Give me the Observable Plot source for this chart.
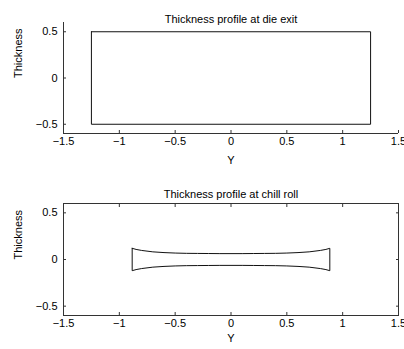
<!DOCTYPE html>
<html><head><meta charset="utf-8">
<script src="https://cdn.jsdelivr.net/npm/d3@7"></script>
<script src="https://cdn.jsdelivr.net/npm/@observablehq/plot@0.6"></script>
<style>
body{margin:0;background:#fff}
#c{width:404px}
#c svg{display:block;overflow:visible}
</style>
</head><body><div id="c"></div>
<script>
const xTicks = [-1.5, -1, -0.5, 0, 0.5, 1, 1.5];
const yTicks = [-0.5, 0, 0.5];
const titles = ["Thickness profile at die exit", "Thickness profile at chill roll"];
const xLabel = "Y";
const yLabel = "Thickness";

// Die exit: rectangular profile (outline)
const dieY = [-1.25, 1.25, 1.25, -1.25, -1.25];
const dieT = [0.5, 0.5, -0.5, -0.5, 0.5];

// Chill roll: half-width positions and upper thickness (symmetric about 0)
const rollY = [0, 0.1, 0.2, 0.3, 0.4, 0.5, 0.6, 0.7, 0.8, 0.85, 0.885];
const rollUpper = [0.063, 0.063, 0.064, 0.065, 0.066, 0.069, 0.074, 0.082, 0.097, 0.108, 0.12];

// build closed outline from the arrays
const upper = [];
for (let i = rollY.length - 1; i > 0; i--) upper.push({y: -rollY[i], t: rollUpper[i]});
for (let i = 0; i < rollY.length; i++) upper.push({y: rollY[i], t: rollUpper[i]});
const outline = [...upper, ...upper.slice().reverse().map(d => ({y: d.y, t: -d.t}))];
outline.push(outline[0]);

const die = dieY.map((y, i) => ({y, t: dieT[i]}));

const font = "'Liberation Sans', Arial, Helvetica, sans-serif";
const axisColor = "#333";
const fmt = d3.format("~g");

function panel({height, mt, mb, title, boxed, data, titleDy, labelDy}) {
  const marks = [];
  if (boxed) {
    marks.push(Plot.frame({stroke: axisColor}));
    marks.push(Plot.axisX({anchor: "top", ticks: xTicks, tickSize: -3, tickFormat: () => "", label: null, stroke: axisColor}));
    marks.push(Plot.axisY({anchor: "right", ticks: yTicks, tickSize: -3, tickFormat: () => "", label: null, stroke: axisColor}));
  } else {
    marks.push(Plot.ruleX([-1.5], {stroke: axisColor}));
    marks.push(Plot.ruleY([-0.6], {stroke: axisColor}));
  }
  marks.push(
    Plot.axisX({ticks: xTicks, tickSize: -3, tickPadding: 7, tickFormat: fmt, label: null, stroke: axisColor, fill: "#000"}),
    Plot.axisY({ticks: yTicks, tickSize: -3, tickPadding: 9, tickFormat: fmt, label: null, stroke: axisColor, fill: "#000"}),
    Plot.line(data, {x: "y", y: "t", stroke: "#111", strokeWidth: 1, curve: "linear"}),
    Plot.text([title], {frameAnchor: "top", dy: titleDy, fontSize: 11, fill: "#000"}),
    Plot.text([xLabel], {frameAnchor: "bottom", dy: labelDy, fontSize: 11, fill: "#000"}),
    Plot.text([yLabel], {frameAnchor: "left", dx: -45, rotate: -90, fontSize: 11, fill: "#000"})
  );
  return Plot.plot({
    width: 404,
    height,
    marginTop: mt,
    marginBottom: mb,
    marginLeft: 63,
    marginRight: 6,
    x: {domain: [-1.5, 1.5]},
    y: {domain: [-0.6, 0.6]},
    style: {fontFamily: font, fontSize: "11px", background: "#fff", color: "#000"},
    marks
  });
}

const c = document.getElementById("c");
c.appendChild(panel({height: 175, mt: 22, mb: 42, title: titles[0], boxed: false, data: die, titleDy: -7, labelDy: 30}));
c.appendChild(panel({height: 174, mt: 28, mb: 34, title: titles[1], boxed: true, data: outline, titleDy: -13, labelDy: 26}));
</script>
</body></html>
